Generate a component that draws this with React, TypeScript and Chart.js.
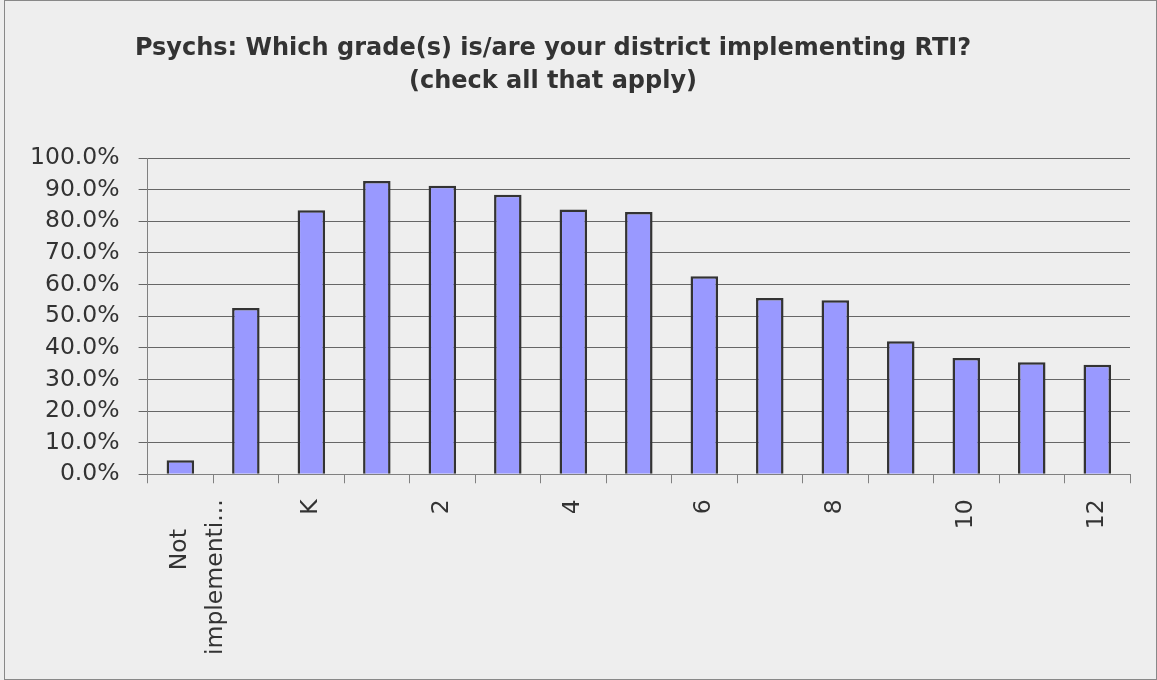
import React, { useEffect, useRef } from "react";
import { Chart, registerables } from "chart.js";

Chart.register(...registerables);

const titleLines = [
  "Psychs: Which grade(s) is/are your district implementing RTI?",
  "(check all that apply)",
];

const categories = [
  "Not implementing",
  "Pre-K",
  "K",
  "1",
  "2",
  "3",
  "4",
  "5",
  "6",
  "7",
  "8",
  "9",
  "10",
  "11",
  "12",
];

const percentages = [4.4, 52.6, 83.5, 92.7, 91.2, 88.4, 83.7, 82.9, 62.6, 55.7, 55.0, 42.1, 36.8, 35.4, 34.6];

const firstLabelLines = ["Not\u00A0\u00A0\u00A0\u00A0", "implementi..."];

const yTickStep = 10;

const titlePlugin = {
  id: "excelTitle",
  afterDraw(chart: any) {
    const ctx = chart.ctx;
    ctx.save();
    ctx.fillStyle = "#333333";
    ctx.font = "bold 24px 'DejaVu Sans'";
    ctx.textAlign = "center";
    ctx.textBaseline = "alphabetic";
    ctx.fillText(titleLines[0], 548, 54);
    ctx.fillText(titleLines[1], 548, 87);
    ctx.restore();
  },
};

export default function App() {
  const canvasRef = useRef<HTMLCanvasElement | null>(null);

  useEffect(() => {
    if (!canvasRef.current) return;
    const chart = new Chart(canvasRef.current, {
      type: "bar",
      data: {
        labels: categories,
        datasets: [
          {
            data: percentages,
            backgroundColor: "#9999FF",
            borderColor: "#333333",
            borderWidth: 2.5,
            categoryPercentage: 1,
            barPercentage: 0.42,
          },
        ],
      },
      options: {
        animation: false,
        responsive: false,
        maintainAspectRatio: false,
        layout: { padding: { left: 6, right: 26, top: 157, bottom: 8 } },
        plugins: {
          legend: { display: false },
          title: { display: false },
          tooltip: { enabled: false },
        },
        scales: {
          x: {
            grid: {
              display: true,
              drawOnChartArea: false,
              drawTicks: true,
              tickLength: 9,
              color: "#808080",
            },
            border: { display: true, color: "#808080", width: 1 },
            ticks: {
              autoSkip: false,
              minRotation: 90,
              maxRotation: 90,
              padding: 16,
              color: "#333333",
              font: { family: "'DejaVu Sans'", size: 23.5, lineHeight: 1.5 },
              callback: (_v: any, i: number) => {
                if (i === 0) return firstLabelLines;
                if (i % 2 === 1) return "";
                return categories[i];
              },
            },
          },
          y: {
            min: 0,
            max: 100,
            grid: {
              color: "#666666",
              tickLength: 9,
              drawTicks: true,
            },
            border: { display: true, color: "#808080", width: 1 },
            ticks: {
              autoSkip: false,
              stepSize: yTickStep,
              padding: 19,
              color: "#333333",
              font: { family: "'DejaVu Sans'", size: 23.5 },
              callback: (v: any) => Number(v).toFixed(1) + "%",
            },
          },
        },
      },
      plugins: [titlePlugin],
    });
    return () => chart.destroy();
  }, []);

  return (
    <div style={{ position: "fixed", left: 0, top: 0, width: 1157, height: 680, background: "#EEEEEE" }}>
      <div
        style={{
          position: "absolute",
          left: 4,
          top: 0,
          width: 1151,
          height: 678,
          border: "1px solid #888888",
          background: "#EEEEEE",
        }}
      >
        <canvas ref={canvasRef} width={1151} height={678} style={{ display: "block", width: 1151, height: 678 }} />
      </div>
    </div>
  );
}
